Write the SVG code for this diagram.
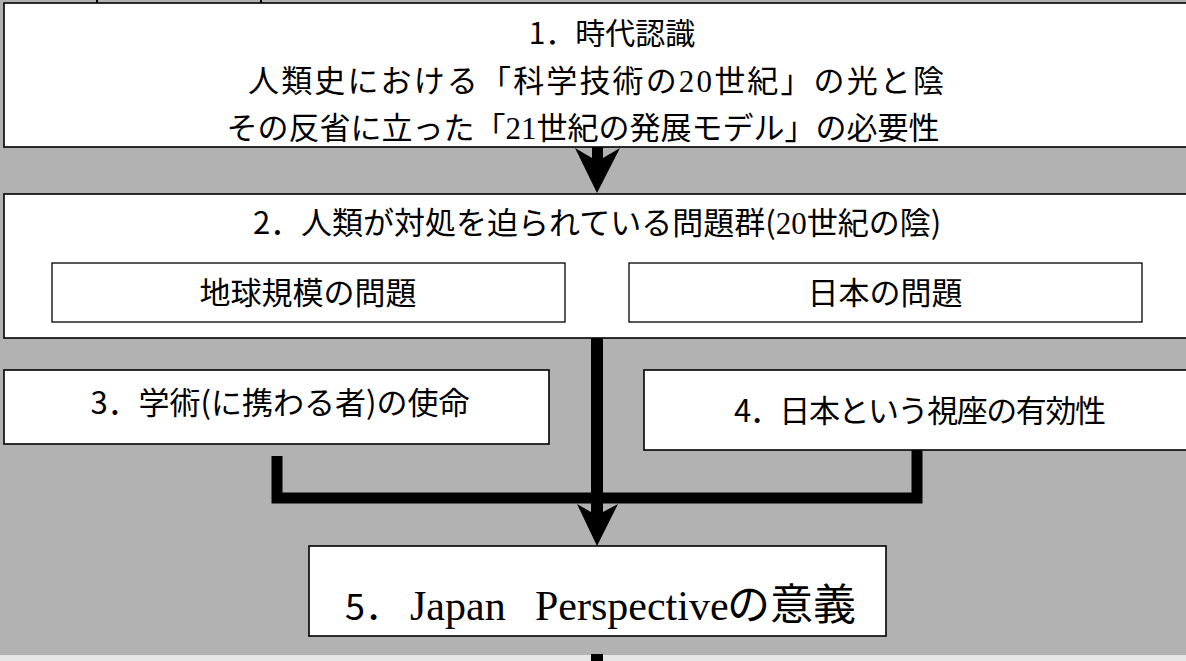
<svg xmlns="http://www.w3.org/2000/svg" width="1186" height="661" viewBox="0 0 1186 661">
<style>
.box{fill:#fff;stroke:#000;stroke-width:1.6}
.ibox{fill:#fff;stroke:#000;stroke-width:1.3}
.t{font-family:"Noto Sans CJK JP","Noto Sans",sans-serif;font-size:31px;fill:#000}
.m{text-anchor:middle}
.s{font-family:"Liberation Serif","Noto Serif",serif}
.arr{fill:#000}
</style>
<rect x="0" y="0" width="1186" height="661" fill="#b2b2b2"/>
<rect x="0" y="655" width="1186" height="6" fill="#e6e6e6"/>
<rect x="591" y="654" width="12" height="7" fill="#000"/>
<rect x="96" y="0" width="2" height="3" fill="#000"/>
<rect x="260" y="0" width="2" height="3" fill="#000"/>

<g id="connectors">
  <polygon class="arr" points="592,146 592,158 575,148 597,193 620,148 603,158 603,146"/>
  <polygon class="arr" points="591,338 603,338 603,512 618,504 597,546 577,504 591,512"/>
  <path d="M277,456 V498 H917 V450" fill="none" stroke="#000" stroke-width="11"/>
</g>

<g id="node1">
  <rect class="box" x="4" y="3" width="1200" height="144"/>
  <text class="t m" x="612" y="44" style="font-size:30px">1．時代認識</text>
  <text class="t m" x="596" y="92" textLength="696" lengthAdjust="spacing">人類史における「科学技術の<tspan class="s">20</tspan>世紀」の光と陰</text>
  <text class="t m" x="583" y="139">その反省に立った「<tspan class="s">21</tspan>世紀の発展モデル」の必要性</text>
</g>

<g id="node2">
  <rect class="box" x="4" y="194" width="1200" height="144"/>
  <text class="t m" x="597" y="234">2．人類が対処を迫られている問題群(<tspan class="s">20</tspan>世紀の陰)</text>
  <g id="node2a">
    <rect class="ibox" x="52" y="263" width="513" height="59"/>
    <text class="t m" x="308" y="304">地球規模の問題</text>
  </g>
  <g id="node2b">
    <rect class="ibox" x="629" y="263" width="513" height="59"/>
    <text class="t m" x="885" y="304">日本の問題</text>
  </g>
</g>

<g id="node3">
  <rect class="box" x="4" y="370" width="545" height="74"/>
  <text class="t m" x="280" y="414">3．学術(に携わる者)の使命</text>
</g>

<g id="node4">
  <rect class="box" x="644" y="370" width="560" height="80"/>
  <text class="t m" x="920" y="422" textLength="372" lengthAdjust="spacing">4．日本という視座の有効性</text>
</g>

<g id="node5">
  <rect class="box" x="309" y="546" width="577" height="90"/>
  <text class="t" y="620" style="font-size:36px"><tspan x="345">5．</tspan><tspan class="s" x="410" style="font-size:42px">Japan</tspan><tspan class="s" x="535" style="font-size:42px">Perspective</tspan><tspan x="727" style="font-size:43px">の意義</tspan></text>
</g>
</svg>
